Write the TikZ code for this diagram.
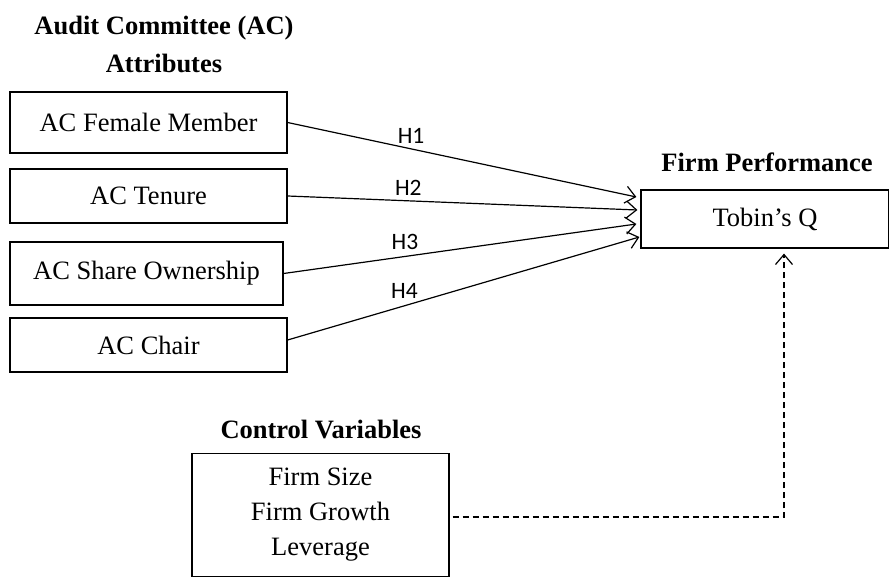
\documentclass[tikz,border=0pt]{standalone}
\usepackage{fontspec}
\setmainfont{Liberation Serif}
\newfontfamily\hfont{Carlito}
\usetikzlibrary{arrows.meta,calc}
\tikzset{
  box/.style={draw, line width=1.2pt, rectangle, inner sep=0pt, font=\fontsize{26.5}{35}\selectfont, align=center},
  ttl/.style={font=\fontsize{26.5}{38}\selectfont\bfseries, align=center, inner sep=0pt},
  hyp/.style={line width=1.2pt, -{Straight Barb[length=10pt,width=17pt,line width=1.2pt]}},
  ctl/.style={line width=1.2pt, dash pattern=on 6pt off 4pt, -{Straight Barb[length=10pt,width=17pt,line width=1.2pt]}},
  hl/.style={font=\fontsize{23.5}{26}\hfont, inner sep=0pt}
}
\begin{document}
\begin{tikzpicture}[x=1pt,y=-1pt]
\useasboundingbox (0,0) rectangle (889,577);
\node[ttl] (t1) at (164,44) {Audit Committee (AC)\\Attributes};
\node[ttl] (t2) at (767,162) {Firm Performance};
\node[ttl] (t3) at (321,430) {Control Variables};
\node[box, minimum width=277pt, minimum height=61pt] (b1) at (148.5,122.5) {AC Female Member};
\node[box, minimum width=277pt, minimum height=54pt] (b2) at (148.5,196) {AC Tenure};
\node[box, minimum width=273pt, minimum height=63pt] (b3) at (146.5,273.5) {AC Share Ownership};
\node[box, minimum width=277pt, minimum height=54pt] (b4) at (148.5,345) {AC Chair};
\node[box, minimum width=248pt, minimum height=58pt] (tq) at (765,219) {Tobin's Q};
\node[box, minimum width=257pt, minimum height=123pt] (cv) at (320.5,515) {Firm Size\\Firm Growth\\Leverage};
\coordinate (e1) at ($(tq.west)+(-4,-22)$);
\coordinate (e2) at ($(tq.west)+(-3,-9)$);
\coordinate (e3) at ($(tq.west)+(-4,5)$);
\coordinate (e4) at ($(tq.west)+(-1,18)$);
\draw[hyp] (b1.east) -- node[hl, pos=0.354, yshift=13pt] {H1} (e1);
\draw[hyp] (b2.east) -- node[hl, pos=0.345, yshift=12.5pt] {H2} (e2);
\draw[hyp] (b3.east) -- node[hl, pos=0.344, yshift=14.5pt] {H3} (e3);
\draw[hyp] ($(b4.east)+(0,-5)$) -- node[hl, pos=0.332, yshift=15pt] {H4} (e4);
\coordinate (c1) at ($(cv.east)+(3,2)$);
\coordinate (c2) at ($(tq.south)+(19,5)$);
\draw[ctl] (c1) -| (c2);
\end{tikzpicture}
\end{document}
